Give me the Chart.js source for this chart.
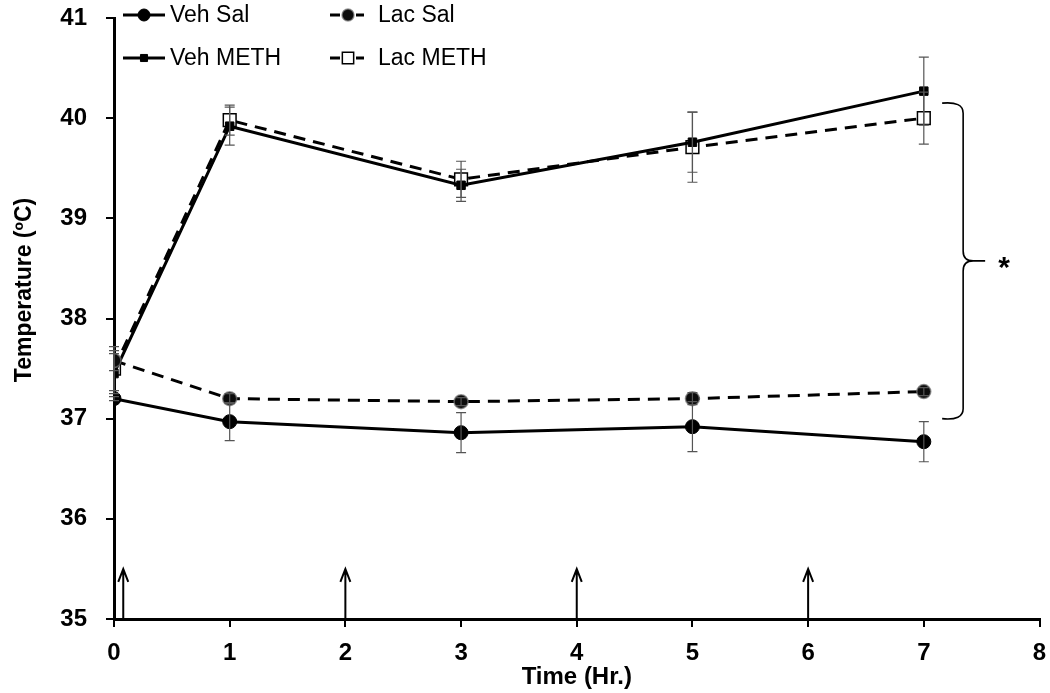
<!DOCTYPE html>
<html>
<head>
<meta charset="utf-8">
<script src="https://cdn.jsdelivr.net/npm/chart.js@4/dist/chart.umd.min.js"></script>
<style>
  body { margin: 0; background: #fff; }
  canvas { display: block; }
</style>
</head>
<body>
<canvas id="tempChart" width="1050" height="693"></canvas>
<script>
// time points (hr) and group means / SEM
const times = [0, 1, 3, 5, 7];
const vehSal = [37.2, 36.97, 36.86, 36.92, 36.77];
const vehSalErr = [0.02, 0.19, 0.2, 0.25, 0.2];
const lacSal = [37.58, 37.2, 37.17, 37.2, 37.27];
const lacSalErr = [0.1, 0.05, 0.04, 0.06, 0.04];
const vehMeth = [37.45, 39.92, 39.33, 39.76, 40.27];
const vehMethErr = [0.2, 0.19, 0.16, 0.3, 0.34];
const lacMeth = [37.5, 39.98, 39.39, 39.71, 40.0];
const lacMethErr = [0.22, 0.15, 0.18, 0.35, 0.26];

const xTicks = [0, 1, 2, 3, 4, 5, 6, 7, 8];
const yTicks = [35, 36, 37, 38, 39, 40, 41];

// injection arrows and significance bracket
const injectionTimes = [0.08, 2, 4, 6];
const arrowTop = 35.5;
const bracketSpan = [37.0, 40.15];
const bracketX = 7.34;

const FONT = "'Liberation Sans', Arial, sans-serif";
const NARROW = "'Liberation Sans Narrow', 'Arial Narrow', 'Liberation Sans', sans-serif";

function points(values) {
    return times.map((t, i) => ({ x: t, y: values[i] }));
}

const datasets = [
    {
        label: 'Veh Sal', data: points(vehSal), err: vehSalErr,
        borderColor: '#000', borderWidth: 3, borderDash: [],
        pointStyle: 'circle', pointRadius: 7,
        pointBackgroundColor: '#000', pointBorderColor: '#000', pointBorderWidth: 1,
        legendCol: 0, legendRow: 0
    },
    {
        label: 'Lac Sal', data: points(lacSal), err: lacSalErr,
        borderColor: '#000', borderWidth: 3, borderDash: [12, 8],
        pointStyle: 'circle', pointRadius: 7,
        pointBackgroundColor: '#0c0c0c', pointBorderColor: 'rgba(120,120,120,0.7)', pointBorderWidth: 1.5,
        legendCol: 1, legendRow: 0
    },
    {
        label: 'Veh METH', data: points(vehMeth), err: vehMethErr,
        borderColor: '#000', borderWidth: 3, borderDash: [],
        pointStyle: 'rect', pointRadius: 6,
        pointBackgroundColor: '#000', pointBorderColor: '#000', pointBorderWidth: 1,
        legendCol: 0, legendRow: 1
    },
    {
        label: 'Lac METH', data: points(lacMeth), err: lacMethErr,
        borderColor: '#000', borderWidth: 3, borderDash: [12, 8],
        pointStyle: 'rect', pointRadius: 9,
        pointBackgroundColor: '#fff', pointBorderColor: '#000', pointBorderWidth: 1.5,
        legendCol: 1, legendRow: 1
    }
];

const errorBars = {
    id: 'errorBars',
    afterDatasetsDraw(chart) {
        const { ctx, scales: { x, y } } = chart;
        ctx.save();
        ctx.strokeStyle = '#555';
        ctx.lineWidth = 1.2;
        chart.data.datasets.forEach(ds => {
            ds.data.forEach((p, i) => {
                const e = ds.err[i];
                const px = x.getPixelForValue(p.x);
                const top = y.getPixelForValue(p.y + e);
                const bot = y.getPixelForValue(p.y - e);
                ctx.beginPath();
                ctx.moveTo(px, top); ctx.lineTo(px, bot);
                ctx.moveTo(px - 5, top); ctx.lineTo(px + 5, top);
                ctx.moveTo(px - 5, bot); ctx.lineTo(px + 5, bot);
                ctx.stroke();
            });
        });
        ctx.restore();
    }
};

const annotations = {
    id: 'annotations',
    afterDraw(chart) {
        const { ctx, scales: { x, y } } = chart;
        ctx.save();
        ctx.strokeStyle = '#000';
        ctx.fillStyle = '#000';

        // injection arrows
        ctx.lineWidth = 2;
        injectionTimes.forEach(t => {
            const px = x.getPixelForValue(t);
            const bot = y.getPixelForValue(35);
            const top = y.getPixelForValue(arrowTop);
            ctx.beginPath();
            ctx.moveTo(px, bot); ctx.lineTo(px, top);
            ctx.moveTo(px - 5, top + 13); ctx.lineTo(px, top); ctx.lineTo(px + 5, top + 13);
            ctx.stroke();
        });

        // curly bracket + asterisk
        const bx = x.getPixelForValue(bracketX);
        const yTop = y.getPixelForValue(bracketSpan[1]);
        const yBot = y.getPixelForValue(bracketSpan[0]);
        const yMid = (yTop + yBot) / 2;
        ctx.lineWidth = 1.6;
        ctx.beginPath();
        ctx.moveTo(bx - 21, yTop);
        ctx.quadraticCurveTo(bx, yTop - 2, bx, yTop + 10);
        ctx.lineTo(bx, yMid - 10);
        ctx.quadraticCurveTo(bx, yMid, bx + 10, yMid);
        ctx.lineTo(bx + 22, yMid);
        ctx.moveTo(bx + 10, yMid);
        ctx.quadraticCurveTo(bx, yMid, bx, yMid + 10);
        ctx.lineTo(bx, yBot - 10);
        ctx.quadraticCurveTo(bx, yBot + 2, bx - 21, yBot);
        ctx.stroke();
        ctx.font = 'bold 30px ' + FONT;
        ctx.textAlign = 'left';
        ctx.textBaseline = 'middle';
        ctx.fillText('*', bx + 35, yMid + 8);

        // axis titles
        ctx.font = 'bold 23px ' + FONT;
        ctx.textAlign = 'center';
        ctx.save();
        ctx.translate(25, 290);
        ctx.rotate(-Math.PI / 2);
        ctx.fillText('Temperature (ºC)', 0, 0);
        ctx.restore();
        ctx.font = 'bold 24px ' + NARROW;
        ctx.fillText('Time (Hr.)', (chart.chartArea.left + chart.chartArea.right) / 2, 677);

        // legend: line sample with marker, two columns
        const cols = [123, 330];
        const rows = [15, 58];
        const sampleLen = [42, 34];
        ctx.font = '23px ' + FONT;
        ctx.textAlign = 'left';
        chart.data.datasets.forEach(ds => {
            const x0 = cols[ds.legendCol];
            const y0 = rows[ds.legendRow];
            const len = sampleLen[ds.legendCol];
            ctx.save();
            ctx.lineWidth = ds.borderWidth;
            ctx.strokeStyle = ds.borderColor;
            ctx.beginPath();
            if (ds.borderDash.length) {
                ctx.moveTo(x0, y0); ctx.lineTo(x0 + 10, y0);
                ctx.moveTo(x0 + len - 8, y0); ctx.lineTo(x0 + len, y0);
            } else {
                ctx.moveTo(x0, y0); ctx.lineTo(x0 + len, y0);
            }
            ctx.stroke();
            ctx.fillStyle = ds.pointBackgroundColor;
            ctx.strokeStyle = ds.pointBorderColor;
            ctx.lineWidth = ds.pointBorderWidth;
            Chart.helpers.drawPoint(ctx, { pointStyle: ds.pointStyle, radius: ds.pointRadius - 1, borderWidth: ds.pointBorderWidth, rotation: 0 }, x0 + len / 2 + (ds.borderDash.length ? 1 : 0), y0);
            ctx.restore();
            ctx.fillStyle = '#000';
            ctx.textBaseline = 'middle';
            ctx.fillText(ds.label, x0 + len + (ds.legendCol ? 14 : 5), y0 + 1);
        });
        ctx.restore();
    }
};

new Chart(document.getElementById('tempChart'), {
    type: 'line',
    data: { datasets },
    options: {
        responsive: false,
        animation: false,
        layout: { padding: { top: 18, right: 8, left: 0, bottom: 0 } },
        plugins: { legend: { display: false }, tooltip: { enabled: false } },
        elements: { line: { tension: 0, fill: false } },
        scales: {
            x: {
                type: 'linear', min: 0, max: 8,
                afterBuildTicks: s => { s.ticks = xTicks.map(v => ({ value: v })); },
                afterFit: s => { s.height = 74; s.paddingLeft = 0; s.paddingRight = 0; },
                border: { display: true, color: '#000', width: 3 },
                grid: { drawOnChartArea: false, color: '#000', lineWidth: 2, tickLength: 8 },
                ticks: { color: '#000', padding: 12, font: { family: FONT, size: 24, weight: 'bold' }, maxRotation: 0 }
            },
            y: {
                type: 'linear', min: 35, max: 41,
                afterBuildTicks: s => { s.ticks = yTicks.map(v => ({ value: v })); },
                afterFit: s => { s.width = 114; s.paddingTop = 0; s.paddingBottom = 0; },
                border: { display: true, color: '#000', width: 3 },
                grid: { drawOnChartArea: false, color: '#000', lineWidth: 2, tickLength: 8 },
                ticks: { color: '#000', padding: 19, font: { family: FONT, size: 24, weight: 'bold' } }
            }
        }
    },
    plugins: [errorBars, annotations]
});
</script>
</body>
</html>
